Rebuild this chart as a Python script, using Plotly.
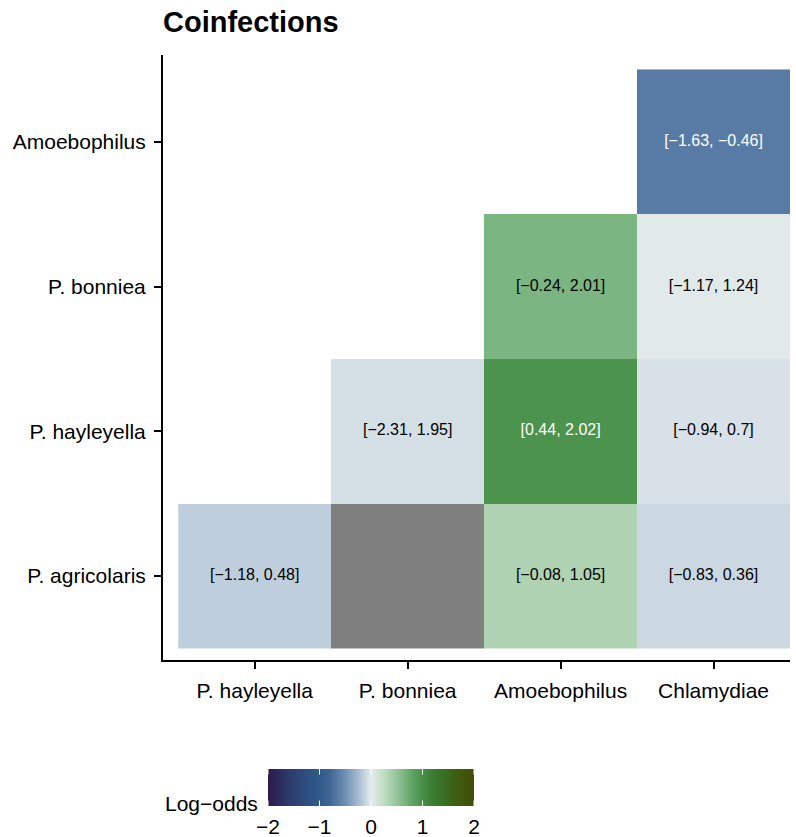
import plotly.graph_objects as go

# Category order on each axis
x_categories = ["P. hayleyella", "P. bonniea", "Amoebophilus", "Chlamydiae"]
y_categories = ["P. agricolaris", "P. hayleyella", "P. bonniea", "Amoebophilus"]

# Pairwise coinfection estimates (log-odds) with interval bounds
pair_row = ["Amoebophilus", "P. bonniea", "P. bonniea", "P. hayleyella", "P. hayleyella",
            "P. hayleyella", "P. agricolaris", "P. agricolaris", "P. agricolaris"]
pair_col = ["Chlamydiae", "Amoebophilus", "Chlamydiae", "P. bonniea", "Amoebophilus",
            "Chlamydiae", "P. hayleyella", "Amoebophilus", "Chlamydiae"]
log_odds = [-0.65, 0.64, 0.02, -0.06, 0.96, -0.05, -0.15, 0.35, -0.10]
ci_low = [-1.63, -0.24, -1.17, -2.31, 0.44, -0.94, -1.18, -0.08, -0.83]
ci_high = [-0.46, 2.01, 1.24, 1.95, 2.02, 0.7, 0.48, 1.05, 0.36]

# Pairs with no estimate
na_row = ["P. agricolaris"]
na_col = ["P. bonniea"]

colorbar_ticks = [-2, -1, 0, 1, 2]
z_min, z_max = -2, 2

# Diverging blue-white-green scale
cork = [
    [0.000, "#2c1a4c"], [0.100, "#2d3a6a"], [0.200, "#2d5283"], [0.250, "#31598a"],
    [0.300, "#3f6795"], [0.375, "#6e8fb2"], [0.450, "#b2c4d7"], [0.500, "#e4ebec"],
    [0.550, "#c8e1c9"], [0.625, "#95c59a"], [0.700, "#5ea466"], [0.750, "#489048"],
    [0.800, "#3a7c34"], [0.875, "#3a6a1c"], [0.900, "#3d6214"], [1.000, "#434c03"],
]

FONT = "Liberation Sans, Arial, Helvetica, sans-serif"
AXIS_FONT_SIZE = 21


def hex_rgb(h):
    h = h.lstrip("#")
    return [int(h[i:i + 2], 16) for i in (0, 2, 4)]


def scale_color(v):
    t = min(max((v - z_min) / (z_max - z_min), 0), 1)
    for (t0, c0), (t1, c1) in zip(cork[:-1], cork[1:]):
        if t0 <= t <= t1:
            f = (t - t0) / (t1 - t0) if t1 > t0 else 0
            a, b = hex_rgb(c0), hex_rgb(c1)
            return [a[i] + (b[i] - a[i]) * f for i in range(3)]
    return hex_rgb(cork[-1][1])


def luminance(rgb):
    def lin(c):
        c /= 255
        return c / 12.92 if c <= 0.03928 else ((c + 0.055) / 1.055) ** 2.4
    r, g, b = (lin(c) for c in rgb)
    return 0.2126 * r + 0.7152 * g + 0.0722 * b


def fmt(v):
    return f"{v:g}".replace("-", "\u2212")


# Build the matrix for the heatmap
z = [[None for _ in x_categories] for _ in y_categories]
for r, c, v in zip(pair_row, pair_col, log_odds):
    z[y_categories.index(r)][x_categories.index(c)] = v

z_na = [[None for _ in x_categories] for _ in y_categories]
for r, c in zip(na_row, na_col):
    z_na[y_categories.index(r)][x_categories.index(c)] = 0

labels = [f"[{fmt(lo)}, {fmt(hi)}]" for lo, hi in zip(ci_low, ci_high)]
label_colors = ["white" if luminance(scale_color(v)) < 0.3 else "black" for v in log_odds]

# Plot-area geometry (pixels)
W, H = 796, 837
M_L, M_R, M_T, M_B = 163, 6, 55, 177
plot_w = W - M_L - M_R
plot_h = H - M_T - M_B

# Colorbar geometry (pixels)
cb_left, cb_len, cb_top, cb_thick = 268, 206, 769, 37
cb_mark = 7


def px_x(px):
    return (px - M_L) / plot_w


def px_y(py):
    return (M_T + plot_h - py) / plot_h


fig = go.Figure()

fig.add_trace(go.Heatmap(
    x=x_categories, y=y_categories, z=z_na,
    colorscale=[[0, "#7f7f7f"], [1, "#7f7f7f"]],
    showscale=False, hoverinfo="skip",
))

fig.add_trace(go.Heatmap(
    x=x_categories, y=y_categories, z=z,
    colorscale=cork, zmin=z_min, zmax=z_max,
    hoverongaps=False,
    colorbar=dict(
        orientation="h",
        x=px_x(cb_left), xanchor="left",
        y=px_y(cb_top), yanchor="top",
        len=cb_len, lenmode="pixels",
        thickness=cb_thick, thicknessmode="pixels",
        xpad=0, ypad=0, outlinewidth=0,
        tickvals=colorbar_ticks,
        ticktext=[fmt(v) for v in colorbar_ticks],
        ticks="outside", ticklen=3, tickwidth=1, tickcolor="rgba(0,0,0,0)",
        tickfont=dict(family=FONT, size=AXIS_FONT_SIZE, color="black"),
    ),
))

fig.add_trace(go.Scatter(
    x=pair_col, y=pair_row, mode="text", text=labels,
    textfont=dict(family=FONT, size=16, color=label_colors),
    hoverinfo="skip", showlegend=False,
))

# White tick marks along the top and bottom edges of the colorbar,
# drawn as short arrow-only annotations so they sit above the bar
for v in colorbar_ticks:
    xp = px_x(cb_left + (v - z_min) / (z_max - z_min) * cb_len)
    for tip, tail_offset in ((cb_top, cb_mark), (cb_top + cb_thick, -cb_mark)):
        fig.add_annotation(
            x=xp, y=px_y(tip), xref="paper", yref="paper",
            text="", showarrow=True, arrowhead=0, arrowwidth=1,
            arrowcolor="white", ax=0, ay=tail_offset,
            standoff=0, startstandoff=0, font=dict(size=1),
        )

# Colorbar title to the left of the bar
fig.add_annotation(
    text="Log\u2212odds", xref="paper", yref="paper",
    x=px_x(cb_left - 8), y=px_y(803), xanchor="right", yanchor="middle",
    showarrow=False, font=dict(family=FONT, size=AXIS_FONT_SIZE, color="black"),
)

axis_common = dict(
    type="category", showgrid=False, zeroline=False,
    showline=True, linecolor="black", linewidth=2,
    ticks="outside", ticklen=7, tickwidth=2, tickcolor="black",
    tickfont=dict(family=FONT, size=AXIS_FONT_SIZE, color="black"),
    ticklabelstandoff=4,
)

fig.update_xaxes(categoryorder="array", categoryarray=x_categories,
                 range=[-0.6, 3.5], **axis_common)
fig.update_yaxes(categoryorder="array", categoryarray=y_categories,
                 range=[-0.58, 3.6], **axis_common)

fig.update_layout(
    width=W, height=H,
    margin=dict(l=M_L, r=M_R, t=M_T, b=M_B, autoexpand=False),
    plot_bgcolor="white", paper_bgcolor="white",
    title=dict(text="<b>Coinfections</b>", x=M_L / W, xanchor="left",
               xref="container", y=1 - 22 / H, yanchor="middle",
               font=dict(family=FONT, size=29, color="black")),
    showlegend=False,
)

fig.write_html("out.html")
